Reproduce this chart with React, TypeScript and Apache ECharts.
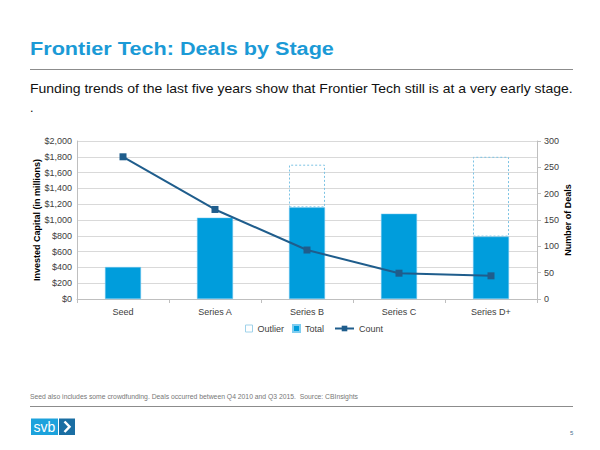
import React, { useEffect, useRef } from "react";
import * as echarts from "echarts";

const categories = ["Seed", "Series A", "Series B", "Series C", "Series D+"];
const totalValues = [405, 1030, 1160, 1080, 790];
const outlierValues = [null, null, 540, null, 1010];
const countValues = [270, 170, 93, 49, 44];

const FONT = "'Liberation Sans', Arial, sans-serif";

export default function App() {
  const ref = useRef<HTMLDivElement>(null);
  useEffect(() => {
    if (!ref.current) return;
    const chart = echarts.init(ref.current, undefined, { renderer: "svg" });
    const legendText = { fontSize: 9, color: "#404040", fontFamily: FONT };
    chart.setOption({
      animation: false,
      backgroundColor: "#ffffff",
      textStyle: { fontFamily: FONT },
      grid: { left: 77, right: 63, top: 141, bottom: 151 },
      legend: [
        {
          data: [
            {
              name: "Outlier",
              icon: "rect",
              itemStyle: { color: "#ffffff", borderColor: "#9fd2ea", borderWidth: 1, borderType: "solid" },
            },
          ],
          left: 245,
          top: 324,
          padding: 0,
          itemWidth: 7,
          itemHeight: 7,
          itemGap: 4,
          textStyle: legendText,
          selectedMode: false,
        },
        {
          data: [{ name: "Total", icon: "rect" }],
          left: 292,
          top: 324,
          padding: 0,
          itemWidth: 7,
          itemHeight: 7,
          textStyle: legendText,
          selectedMode: false,
        },
        {
          data: [{ name: "Count" }],
          left: 334,
          top: 324,
          padding: 0,
          itemWidth: 19,
          itemHeight: 7,
          textStyle: legendText,
          selectedMode: false,
        },
      ],
      xAxis: {
        type: "category",
        data: categories,
        axisLine: { lineStyle: { color: "#bfbfbf" } },
        axisTick: { show: true, length: 4, lineStyle: { color: "#bfbfbf" } },
        axisLabel: { fontSize: 9, color: "#404040", margin: 8 },
      },
      yAxis: [
        {
          type: "value",
          min: 0,
          max: 2000,
          interval: 200,
          name: "Invested Capital (in millions)",
          nameLocation: "middle",
          nameRotate: 90,
          nameGap: 36,
          nameMoveOverlap: false,
          nameTextStyle: { fontSize: 9, fontWeight: "bold", color: "#000" },
          axisLine: { show: true, lineStyle: { color: "#bfbfbf" } },
          axisTick: { show: false },
          axisLabel: {
            fontSize: 9,
            color: "#404040",
            margin: 5,
            formatter: (v: number) => "$" + v.toLocaleString("en-US"),
          },
          splitLine: { lineStyle: { color: "#d9d9d9" } },
        },
        {
          type: "value",
          min: 0,
          max: 300,
          interval: 50,
          name: "Number of Deals",
          nameLocation: "middle",
          nameRotate: 90,
          nameGap: 26,
          nameMoveOverlap: false,
          nameTextStyle: { fontSize: 9, fontWeight: "bold", color: "#000" },
          axisLine: { show: true, lineStyle: { color: "#bfbfbf" } },
          axisTick: { show: true, length: 4, lineStyle: { color: "#bfbfbf" } },
          axisLabel: { fontSize: 9, color: "#404040", margin: 7 },
          splitLine: { show: false },
        },
      ],
      series: [
        {
          name: "Total",
          type: "bar",
          stack: "cap",
          data: totalValues,
          barWidth: 36,
          itemStyle: { color: "#009ddc", borderColor: "#7fcdf0", borderWidth: 0.5 },
        },
        {
          name: "Outlier",
          type: "bar",
          stack: "cap",
          data: outlierValues,
          barWidth: 36,
          itemStyle: {
            color: "rgba(255,255,255,0)",
            borderColor: "#7cc3e4",
            borderWidth: 1,
            borderType: [2, 2],
          },
        },
        {
          name: "Count",
          type: "line",
          yAxisIndex: 1,
          data: countValues,
          symbol: "rect",
          symbolSize: 7,
          lineStyle: { color: "#1f5d8c", width: 2 },
          itemStyle: { color: "#1f5d8c" },
        },
      ],
      graphic: [
        {
          type: "text",
          x: 30,
          y: 48.5,
          scaleX: 1.14,
          scaleY: 1,
          originX: 0,
          originY: 0,
          style: {
            text: "Frontier Tech: Deals by Stage",
            font: `bold 19px ${FONT}`,
            fill: "#1b9ad6",
            verticalAlign: "middle",
          },
        },
        {
          type: "line",
          shape: { x1: 30, y1: 69.5, x2: 573, y2: 69.5 },
          style: { stroke: "#8c8c8c", lineWidth: 1 },
        },
        {
          type: "text",
          x: 30,
          y: 88.5,
          scaleX: 1.12,
          scaleY: 1,
          originX: 0,
          originY: 0,
          style: {
            text: "Funding trends of the last five years show that Frontier Tech still is at a very early stage.",
            font: `12.5px ${FONT}`,
            fill: "#111",
            verticalAlign: "middle",
          },
        },
        {
          type: "text",
          x: 30,
          y: 108,
          style: { text: ".", font: `12.5px ${FONT}`, fill: "#111", verticalAlign: "middle" },
        },
        {
          type: "text",
          left: 30,
          top: 393,
          style: {
            text: "Seed also includes some crowdfunding. Deals occurred between Q4 2010 and Q3 2015.  Source: CBInsights",
            font: `6.8px ${FONT}`,
            fill: "#777",
          },
        },
        {
          type: "line",
          shape: { x1: 30, y1: 406.5, x2: 573, y2: 406.5 },
          style: { stroke: "#8c8c8c", lineWidth: 1 },
        },
        {
          type: "rect",
          shape: { x: 31, y: 418.5, width: 27, height: 16.5 },
          style: { fill: "#1ca2dc" },
        },
        {
          type: "text",
          x: 44.5,
          y: 427,
          style: {
            text: "svb",
            font: `14px 'Liberation Sans Narrow', ${FONT}`,
            fill: "#fff",
            align: "center",
            verticalAlign: "middle",
          },
        },
        {
          type: "rect",
          shape: { x: 59, y: 418.5, width: 16, height: 16.5 },
          style: { fill: "#1a6ea3" },
        },
        {
          type: "polyline",
          shape: { points: [[64.5, 421.5], [69.5, 426.75], [64.5, 432]] },
          style: { stroke: "#fff", lineWidth: 2.5, fill: "none" },
        },
        {
          type: "text",
          left: 570,
          top: 430,
          style: { text: "5", font: `6px ${FONT}`, fill: "#4a6f90" },
        },
      ],
    });
    return () => chart.dispose();
  }, []);
  return (
    <div
      ref={ref}
      style={{ position: "fixed", left: 0, top: 0, width: 600, height: 450 }}
    />
  );
}
